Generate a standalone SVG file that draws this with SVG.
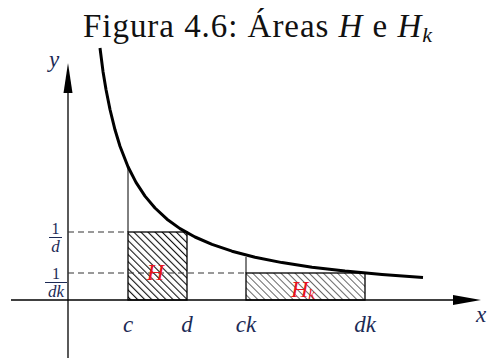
<svg xmlns="http://www.w3.org/2000/svg" width="487" height="358" viewBox="0 0 487 358">
<style>
.title{font-family:"Liberation Serif","DejaVu Serif",serif;font-size:33px;fill:#111}
.lab{font-family:"Liberation Serif","DejaVu Serif",serif;font-style:italic;font-size:23px;fill:#1c2a55}
.frac{font-family:"Liberation Serif","DejaVu Serif",serif;font-size:16px;fill:#1c2a55}
.fraci{font-family:"Liberation Serif","DejaVu Serif",serif;font-style:italic;font-size:17px;fill:#1c2a55}
.red{font-family:"Liberation Serif","DejaVu Serif",serif;font-style:italic;font-size:24px;fill:#e8141c}
.axis{stroke:#000;stroke-width:1.3;fill:none}
.thin{stroke:#000;stroke-width:1;fill:none}
.dash{stroke:#333;stroke-width:1.2;stroke-dasharray:6 4;fill:none}
</style>
<defs>
<pattern id="hatch" width="5" height="5" patternUnits="userSpaceOnUse" patternTransform="rotate(-45)">
<line x1="0" y1="0" x2="0" y2="5" stroke="#111" stroke-width="2.2"/>
</pattern>
<pattern id="hatch2" width="5" height="5" patternUnits="userSpaceOnUse" patternTransform="rotate(-45)">
<line x1="0" y1="0" x2="0" y2="5" stroke="#444" stroke-width="1.6"/>
</pattern>
</defs>
<text class="title" x="83" y="37" textLength="349" lengthAdjust="spacing">Figura 4.6: Áreas <tspan font-style="italic">H</tspan> e <tspan font-style="italic">H</tspan><tspan font-style="italic" font-size="22" dy="5">k</tspan></text>
<g id="areas">
<rect id="H" x="128" y="232" width="59" height="68" fill="url(#hatch)" stroke="#000" stroke-width="1.3"/>
<rect id="Hk" x="246" y="273" width="119" height="27" fill="url(#hatch2)" stroke="#000" stroke-width="1.3"/>
</g>
<g id="connectors">
<line class="axis" x1="68" y1="358" x2="68" y2="90"/>
<polygon points="68,63 63.5,93 72.5,93" fill="#000"/>
<line class="axis" x1="11" y1="300" x2="455" y2="300"/>
<polygon points="481,300 453,295 453,305" fill="#000"/>
<line class="thin" x1="128" y1="167" x2="128" y2="232"/>
<line class="thin" x1="246" y1="257" x2="246" y2="273"/>
<line class="dash" x1="68" y1="232" x2="128" y2="232"/>
<line class="dash" x1="68" y1="273" x2="246" y2="273"/>
<polyline fill="none" stroke="#000" stroke-width="3" stroke-linejoin="round" points="100,48 103,71.4 106,89.5 110,109.5 115,129.8 120,146.2 128,166.7 136,182.4 145,196.1 155,208 167,219.2 180,228.6 195,237 212,244.4 232,251.2 255,257.2 282,262.6 312,267.2 345,271.1 382,274.5 423,277.5"/>
</g>
<g id="labels">
<text class="lab" x="49" y="67">y</text>
<text class="lab" x="476" y="322">x</text>
<text class="lab" x="128" y="332" text-anchor="middle">c</text>
<text class="lab" x="187" y="332" text-anchor="middle">d</text>
<text class="lab" x="246" y="332" text-anchor="middle">ck</text>
<text class="lab" x="365" y="332" text-anchor="middle">dk</text>
<text class="frac" x="55.5" y="234" text-anchor="middle">1</text>
<line x1="49" y1="237.5" x2="62" y2="237.5" stroke="#1c2a55" stroke-width="1"/>
<text class="fraci" x="55.5" y="252" text-anchor="middle">d</text>
<text class="frac" x="56" y="279" text-anchor="middle">1</text>
<line x1="45" y1="282.5" x2="67" y2="282.5" stroke="#1c2a55" stroke-width="1"/>
<text class="fraci" x="56" y="297" text-anchor="middle">dk</text>
<text class="red" x="155.5" y="280" text-anchor="middle">H</text>
<text class="red" x="303" y="297" text-anchor="middle" font-size="22">H<tspan font-size="15" dy="2">k</tspan></text>
</g>
</svg>
